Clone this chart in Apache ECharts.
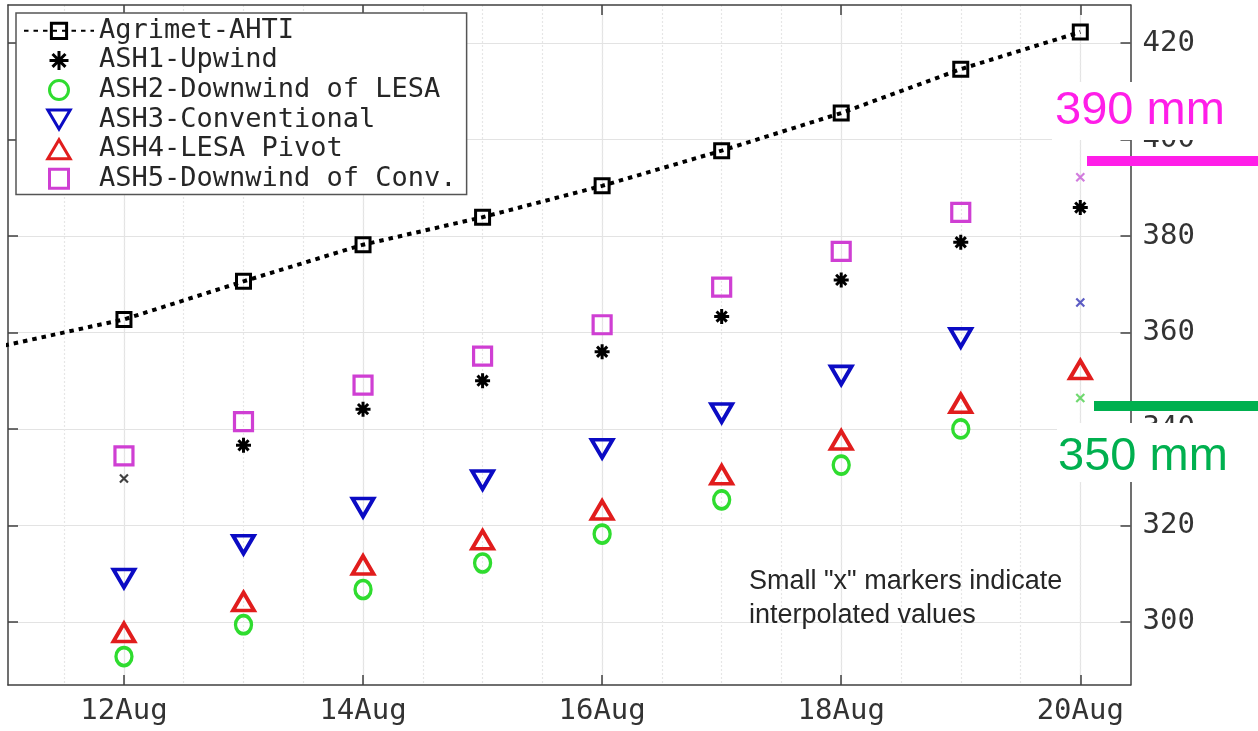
<!DOCTYPE html>
<html>
<head>
<meta charset="utf-8">
<script src="https://cdn.jsdelivr.net/npm/echarts@6/dist/echarts.min.js"></script>
<style>
html,body{margin:0;padding:0;background:#fff;}
#chart{width:1258px;height:731px;}
</style>
</head>
<body>
<div id="chart"></div>
<script>
// ---- data ----
const ahtiDays = [11, 12, 13, 14, 15, 16, 17, 18, 19, 20];
const ahti = [357.3, 362.7, 370.6, 378.2, 383.9, 390.4, 397.7, 405.5, 414.6, 422.3];

const days = [12, 13, 14, 15, 16, 17, 18, 19, 20];
const ash1 = [329.7, 336.6, 344.1, 350.0, 356.0, 363.3, 370.9, 378.7, 385.9];
const ash2 = [292.8, 299.4, 306.7, 312.2, 318.2, 325.3, 332.5, 340.0, 346.4];
const ash3 = [309.0, 316.0, 323.7, 329.4, 335.9, 343.3, 351.1, 358.9, 366.2];
const ash4 = [297.8, 304.2, 311.8, 317.0, 323.2, 330.5, 337.7, 345.3, 352.3];
const ash5 = [334.4, 341.5, 349.1, 355.1, 361.6, 369.4, 376.8, 384.9, 392.2];

// 1 = interpolated value (drawn as small "x")
const ash1Interp = [1, 0, 0, 0, 0, 0, 0, 0, 0];
const ash2Interp = [0, 0, 0, 0, 0, 0, 0, 0, 1];
const ash3Interp = [0, 0, 0, 0, 0, 0, 0, 0, 1];
const ash4Interp = [0, 0, 0, 0, 0, 0, 0, 0, 0];
const ash5Interp = [0, 0, 0, 0, 0, 0, 0, 0, 1];

const seriesNames = ['Agrimet-AHTI', 'ASH1-Upwind', 'ASH2-Downwind of LESA',
  'ASH3-Conventional', 'ASH4-LESA Pivot', 'ASH5-Downwind of Conv.'];

const xMajorTicks = [12, 14, 16, 18, 20];
const xMinorTicks = [11.5, 12, 12.5, 13, 13.5, 14, 14.5, 15, 15.5, 16, 16.5, 17, 17.5, 18, 18.5, 19, 19.5, 20];
const yTicks = [300, 320, 340, 360, 380, 400, 420];
const xLabelSuffix = 'Aug';

// ---- helpers ----
function measured(vals, flags) {
  return days.map((d, i) => flags[i] ? null : [d, vals[i]]).filter(p => p);
}
function interpolated(vals, flags) {
  return days.map((d, i) => flags[i] ? [d, vals[i]] : null).filter(p => p);
}

const XMIN = 11.03, XMAX = 20.42, YMIN = 286.9, YMAX = 427.9;
const AX = '#404040';
const MONO = 'DejaVu Sans Mono';

const ASTERISK = 'path://M5,0L5,10M0,5L10,5M1.6,1.6L8.4,8.4M1.6,8.4L8.4,1.6';
const SMALLX = 'path://M0,0L10,10M0,10L10,0';
const TRI_DOWN = 'path://M0,0L20,0L10,17Z';
const TRI_UP = 'path://M10,0L20,17L0,17Z';
const SQUARE = 'path://M0,0L10,0L10,10L0,10Z';

const C_GREEN = '#2fdc2f', C_BLUE = '#0b0bc4', C_RED = '#e11d1d', C_MAG = '#cf3fd3';

function scatter(name, data, symbol, size, color, bw) {
  return {
    name, type: 'scatter', data, symbol, symbolSize: size, z: 5,
    clip: true,
    itemStyle: { color: 'rgba(0,0,0,0)', borderColor: color, borderWidth: bw, opacity: 1 },
    emphasis: { disabled: true }
  };
}
function interpSeries(data, color) {
  return {
    type: 'scatter', data, symbol: SMALLX, symbolSize: 8, z: 4,
    itemStyle: { color: 'rgba(0,0,0,0)', borderColor: color, borderWidth: 2.2 },
    emphasis: { disabled: true }
  };
}

const chart = echarts.init(document.getElementById('chart'), null, { renderer: 'canvas' });

const option = {
  animation: false,
  backgroundColor: '#ffffff',
  grid: { left: 8, right: 127.5, top: 5, bottom: 46, containLabel: false, outerBoundsMode: 'none' },
  legend: {
    orient: 'vertical', left: 16, top: 13,
    padding: [3, 10, 1, 7],
    itemWidth: 70, itemHeight: 19, itemGap: 0,
    backgroundColor: '#ffffff', borderColor: '#555', borderWidth: 1.5, borderRadius: 0,
    itemStyle: { borderWidth: 3 },
    textStyle: { fontFamily: MONO, fontSize: 27, color: '#262626', lineHeight: 29.6 },
    data: seriesNames,
    selectedMode: false,
    z: 10
  },
  xAxis: [
    {
      type: 'value', position: 'bottom', min: XMIN, max: XMAX,
      axisLine: { show: true, onZero: false, lineStyle: { color: AX, width: 1.5 } },
      axisTick: { show: true, inside: true, length: 10, customValues: xMajorTicks, lineStyle: { color: AX, width: 1.5 } },
      axisLabel: {
        customValues: xMajorTicks, margin: 12,
        fontFamily: MONO, fontSize: 29, color: '#333',
        formatter: v => Math.round(v) + xLabelSuffix
      },
      splitLine: { show: true, lineStyle: { color: '#e3e3e3', width: 1.2 } }
    },
    {
      type: 'value', position: 'top', min: XMIN, max: XMAX,
      axisLine: { show: true, onZero: false, lineStyle: { color: AX, width: 1.5 } },
      axisTick: { show: true, inside: true, length: 10, customValues: xMajorTicks, lineStyle: { color: AX, width: 1.5 } },
      axisLabel: { show: false },
      splitLine: { show: false }
    },
    {
      type: 'value', position: 'bottom', min: XMIN, max: XMAX,
      axisLine: { show: false }, axisLabel: { show: false },
      axisTick: { show: false, customValues: xMinorTicks },
      splitLine: { show: true, lineStyle: { color: '#e6e6e6', width: 1.2, type: [2, 2] } },
      z: 0
    }
  ],
  yAxis: [
    {
      type: 'value', position: 'right', min: YMIN, max: YMAX,
      axisLine: { show: true, onZero: false, lineStyle: { color: AX, width: 1.5 } },
      axisTick: { show: true, inside: true, length: 10, customValues: yTicks, lineStyle: { color: AX, width: 1.5 } },
      axisLabel: {
        customValues: yTicks, margin: 12,
        fontFamily: MONO, fontSize: 29, color: '#333',
        formatter: v => String(Math.round(v))
      },
      splitLine: { show: true, lineStyle: { color: '#e3e3e3', width: 1.2 } }
    },
    {
      type: 'value', position: 'left', min: YMIN, max: YMAX,
      axisLine: { show: true, onZero: false, lineStyle: { color: AX, width: 1.5 } },
      axisTick: { show: true, inside: true, length: 10, customValues: yTicks, lineStyle: { color: AX, width: 1.5 } },
      axisLabel: { show: false },
      splitLine: { show: false }
    }
  ],
  series: [
    {
      name: seriesNames[0], type: 'line', clip: true, z: 6,
      data: ahtiDays.map((d, i) => [d, ahti[i]]),
      symbol: SQUARE, symbolSize: 14, showAllSymbol: true,
      lineStyle: { color: '#000', width: 4, type: [4.5, 5], cap: 'butt' },
      itemStyle: { color: 'rgba(0,0,0,0)', borderColor: '#000', borderWidth: 3 },
      emphasis: { disabled: true }
    },
    scatter(seriesNames[1], measured(ash1, ash1Interp), ASTERISK, 15, '#000', 3),
    scatter(seriesNames[2], measured(ash2, ash2Interp), 'circle', [16, 18], C_GREEN, 3.5),
    scatter(seriesNames[3], measured(ash3, ash3Interp), TRI_DOWN, [21, 18], C_BLUE, 3.8),
    scatter(seriesNames[4], measured(ash4, ash4Interp), TRI_UP, [21, 18], C_RED, 3.8),
    scatter(seriesNames[5], measured(ash5, ash5Interp), SQUARE, 18, C_MAG, 3.2),
    interpSeries(interpolated(ash1, ash1Interp), '#111'),
    interpSeries(interpolated(ash2, ash2Interp), '#4ccf4c'),
    interpSeries(interpolated(ash3, ash3Interp), '#3535b5'),
    interpSeries(interpolated(ash4, ash4Interp), '#d33'),
    interpSeries(interpolated(ash5, ash5Interp), '#c75bd6')
  ],
  graphic: {
    elements: [
      { type: 'text', z: 50, style: { x: 749, y: 582, text: 'Small "x" markers indicate', font: '27px "Liberation Sans"', fill: '#262626', verticalAlign: 'middle' } },
      { type: 'text', z: 50, style: { x: 749, y: 616, text: 'interpolated values', font: '27px "Liberation Sans"', fill: '#262626', verticalAlign: 'middle' } },
      { type: 'rect', z: 100, shape: { x: 1052, y: 82, width: 206, height: 58 }, style: { fill: '#ffffff' } },
      { type: 'text', z: 101, style: { x: 1055, y: 111, text: '390 mm', font: '47px "Liberation Sans"', fill: '#ff1ee8', verticalAlign: 'middle' } },
      { type: 'rect', z: 101, shape: { x: 1087, y: 156, width: 171, height: 10 }, style: { fill: '#ff1ee8' } },
      { type: 'rect', z: 100, shape: { x: 1057, y: 423, width: 201, height: 59 }, style: { fill: '#ffffff' } },
      { type: 'text', z: 101, style: { x: 1058, y: 457, text: '350 mm', font: '47px "Liberation Sans"', fill: '#00b04f', verticalAlign: 'middle' } },
      { type: 'rect', z: 101, shape: { x: 1094, y: 401, width: 164, height: 10 }, style: { fill: '#00b04f' } }
    ]
  }
};
chart.setOption(option);
</script>
</body>
</html>
